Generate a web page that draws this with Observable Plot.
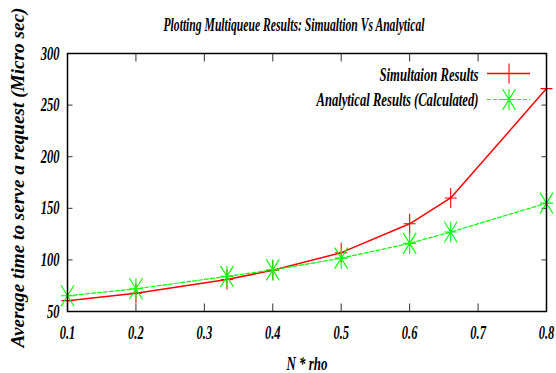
<!DOCTYPE html>
<html><head><meta charset="utf-8">
<script src="https://cdn.jsdelivr.net/npm/d3@7"></script>
<script src="https://cdn.jsdelivr.net/npm/@observablehq/plot@0.6"></script>
<style>body{margin:0;background:#fff}</style>
</head><body><div id="chart"></div>
<script>
const nrho = [0.1, 0.2, 0.333, 0.4, 0.5, 0.6, 0.66, 0.8];
const simulation = [60.5, 67.7, 81, 90, 107, 135, 160, 266];
const analytical = [65.2, 72, 84, 90.3, 101.7, 116, 127, 155];
const xTicks = [0.1, 0.2, 0.3, 0.4, 0.5, 0.6, 0.7, 0.8];
const yTicks = [50, 100, 150, 200, 250, 300];
const seriesNames = ["Simultaion Results", "Analytical Results (Calculated)"];
const seriesColors = ["#ff0000", "#00ff00"];
const title = "Plotting Multiqueue Results: Simualtion Vs Analytical";
const xLabel = "N * rho";
const yLabel = "Average time to serve a request (Micro sec)";

const simData = nrho.map((x, i) => ({x, y: simulation[i]}));
const anaData = nrho.map((x, i) => ({x, y: analytical[i]}));

const sym = segs => ({draw(ctx) { for (const [a, b, c, d] of segs) { ctx.moveTo(a, b); ctx.lineTo(c, d); } }});
const plus = sym([[-6, 0, 6, 0], [0, -10, 0, 10]]);
const star = sym([[-6.5, 0, 6.5, 0], [0, -10.5, 0, 10.5], [-6.5, -10.5, 6.5, 10.5], [-6.5, 10.5, 6.5, -10.5]]);
const tickUp = sym([[0, 0, 0, -8]]);
const tickDown = sym([[0, 0, 0, 8]]);
const tickRight = sym([[0, 0, 5, 0]]);
const tickLeft = sym([[0, 0, -5, 0]]);

const plot = Plot.plot({
  width: 556, height: 373,
  marginLeft: 67, marginRight: 10, marginTop: 53, marginBottom: 62,
  style: {fontFamily: "'Liberation Serif', serif", fontStyle: "italic", fontWeight: "bold", fontSize: "19px", background: "white", overflow: "visible", color: "black"},
  x: {domain: [0.1, 0.8]},
  y: {domain: [50, 300]},
  marks: [
    Plot.axisX({ticks: xTicks, tickSize: 0, tickPadding: 13.5, tickFormat: d3.format(".1f"), label: null, fill: "black"}),
    Plot.axisY({ticks: yTicks, tickSize: 0, tickPadding: 8, label: null, fill: "black"}),
    Plot.dot(xTicks, {x: d => d, frameAnchor: "bottom", symbol: tickUp, stroke: "#333", fill: "none", strokeWidth: 1}),
    Plot.dot(xTicks, {x: d => d, frameAnchor: "top", symbol: tickDown, stroke: "#333", fill: "none", strokeWidth: 1}),
    Plot.dot(yTicks, {y: d => d, frameAnchor: "left", symbol: tickRight, stroke: "#333", fill: "none", strokeWidth: 1}),
    Plot.dot(yTicks, {y: d => d, frameAnchor: "right", symbol: tickLeft, stroke: "#333", fill: "none", strokeWidth: 1}),
    Plot.line(simData, {x: "x", y: "y", stroke: seriesColors[0], strokeWidth: 1.5}),
    Plot.line(anaData, {x: "x", y: "y", stroke: seriesColors[1], strokeWidth: 1.2, strokeDasharray: "4,2"}),
    Plot.dot(simData, {x: "x", y: "y", symbol: plus, stroke: seriesColors[0], fill: "none", strokeWidth: 1.1}),
    Plot.dot(anaData, {x: "x", y: "y", symbol: star, stroke: seriesColors[1], fill: "none", strokeWidth: 1.1}),
    Plot.frame({stroke: "black", strokeWidth: 1.5}),
    Plot.text([title], {text: d => d, frameAnchor: "top", textAnchor: "middle", lineAnchor: "bottom", dx: -13, dy: -23, fontSize: 18, fill: "black"}),
    Plot.text([xLabel], {text: d => d, frameAnchor: "bottom", textAnchor: "middle", lineAnchor: "bottom", dx: 0, dy: 58, fontSize: 19, fill: "black"}),
    Plot.text([yLabel], {text: d => d, frameAnchor: "left", textAnchor: "middle", rotate: -90, dx: -49, dy: -5, fontSize: 18, fill: "black"}),
    Plot.text([seriesNames[0]], {text: d => d, frameAnchor: "top-right", textAnchor: "end", lineAnchor: "bottom", dx: -68, dy: 27, fontSize: 18, fill: "black"}),
    Plot.text([seriesNames[1]], {text: d => d, frameAnchor: "top-right", textAnchor: "end", lineAnchor: "bottom", dx: -68, dy: 52, fontSize: 18, fill: "black"})
  ]
});
document.getElementById("chart").appendChild(plot);

// horizontal condensing of the narrow bold-italic type
const targets = new Map([[title, 261], [seriesNames[0], 99], [seriesNames[1], 162], [yLabel, 340], [xLabel, 41]]);
plot.querySelectorAll("text").forEach(t => {
  const s = t.textContent;
  const len = t.getComputedTextLength();
  const w = targets.has(s) ? targets.get(s) : len * 0.66;
  t.setAttribute("textLength", w);
  t.setAttribute("lengthAdjust", "spacingAndGlyphs");
});

// legend swatches
const svg = d3.select(plot);
const lg = svg.append("g");
const rows = [
  {y: 73.5, color: seriesColors[0], dash: null, width: 1.5, symbol: plus},
  {y: 99.5, color: seriesColors[1], dash: "4,2", width: 1.2, symbol: star}
];
rows.forEach(r => {
  lg.append("line").attr("x1", 487).attr("x2", 530).attr("y1", r.y).attr("y2", r.y)
    .attr("stroke", r.color).attr("stroke-width", r.width).attr("stroke-dasharray", r.dash);
  const p = d3.path(); r.symbol.draw(p);
  lg.append("path").attr("d", p.toString()).attr("transform", `translate(509,${r.y})`)
    .attr("stroke", r.color).attr("fill", "none").attr("stroke-width", 1.1);
});
</script>
</body></html>
